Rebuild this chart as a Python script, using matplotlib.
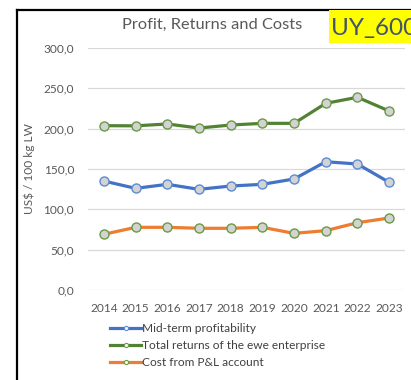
import matplotlib
matplotlib.use("Agg")
import matplotlib.pyplot as plt
from matplotlib.patches import Rectangle
from matplotlib.lines import Line2D

plt.rcParams['font.family'] = ['Lato', 'DejaVu Sans']

years = ['2014', '2015', '2016', '2017', '2018', '2019', '2020', '2021', '2022', '2023']
mid_term_profitability = [135.1, 126.0, 131.0, 124.8, 128.9, 131.0, 137.6, 159.0, 156.2, 133.5]
total_returns = [203.7, 203.5, 205.8, 200.8, 204.5, 206.6, 206.6, 231.4, 238.9, 221.9]
cost_pl_account = [69.0, 77.7, 77.7, 76.5, 76.5, 77.7, 70.2, 73.6, 83.4, 89.3]
y_ticks = [0, 50, 100, 150, 200, 250, 300]

W, H = 411, 380
fig = plt.figure(figsize=(W / 100, H / 100), dpi=100)
ax = fig.add_axes([88 / W, 1 - 290 / H, 317 / W, 242 / H])

x = list(range(len(years)))
series = [
    (mid_term_profitability, 'Mid-term profitability', '#4472C4', '#5B8BD6'),
    (total_returns, 'Total returns of the ewe enterprise', '#548235', '#6A9A45'),
    (cost_pl_account, 'Cost from P&L account', '#ED7D31', '#6A9A45'),
]
for vals, label, color, edge in series:
    ax.plot(x, vals, color=color, lw=2.3, marker='o', ms=6.5,
            mfc='#D3D3D3', mec=edge, mew=1.0, zorder=3)

ax.set_xlim(-0.5, len(years) - 0.5)
ax.set_ylim(0, 300)
ax.set_yticks(y_ticks)
ax.set_yticklabels([f"{v:.1f}".replace('.', ',') for v in y_ticks])
ax.set_xticks(x)
ax.set_xticklabels(years)
ax.tick_params(length=0, labelsize=8.6, colors='#595959')
ax.tick_params(axis='y', pad=10)
ax.tick_params(axis='x', pad=9)
ax.grid(axis='y', color='#D9D9D9', lw=0.9)
ax.set_axisbelow(True)
for s in ax.spines.values():
    s.set_visible(False)
ax.set_ylabel('US$ / 100 kg LW', fontsize=8.6, color='#595959', labelpad=6)

fig.text(212 / W, 1 - 25 / H, 'Profit, Returns and Costs', ha='center', va='center',
         fontsize=11.8, color='#595959')

# legend below the plot
handles = [Line2D([], [], color=c, lw=2.3, marker='o', ms=3, mfc='white', mec=e, mew=0.8)
           for _, _, c, e in series]
fig.legend(handles, [s[1] for s in series], loc='upper left',
           bbox_to_anchor=(110 / W, 1 - 323 / H), frameon=False, fontsize=8.6,
           labelcolor='#404040', handlelength=2.6, handletextpad=0.1,
           labelspacing=0.5, borderpad=0, borderaxespad=0)

# frame lines at left and top
fig.add_artist(Line2D([17 / W, 17 / W], [0, 1 - 10 / H], color='black', lw=1.6,
                      transform=fig.transFigure))
fig.add_artist(Line2D([17 / W, 1], [1 - 10 / H, 1 - 10 / H], color='black', lw=1.6,
                      transform=fig.transFigure))

# highlighted code tag, running off the right edge
fig.add_artist(Rectangle((329 / W, 1 - 43 / H), (W - 329) / W, 33 / H,
                         transform=fig.transFigure, facecolor='#FFFF00',
                         edgecolor='none', zorder=5))
fig.text(331 / W, 1 - 29 / H, 'UY_600', ha='left', va='center', fontsize=17.5,
         color='#44546A', zorder=6)

fig.savefig('out.png', dpi=100)
